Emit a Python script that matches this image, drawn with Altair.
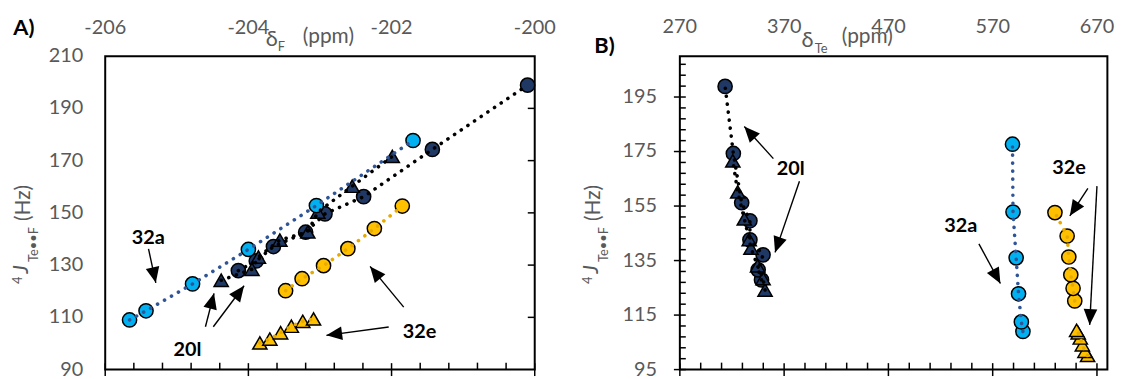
import math
import altair as alt
import pandas as pd

# ---------------- data ----------------
# 20l, circles
J_20l_circ = [127.9, 131.6, 137.1, 142.6, 149.6, 156.2, 174.3, 198.9]
dF_20l_circ = [-204.14, -203.89, -203.65, -203.20, -202.93, -202.39, -201.43, -200.10]
dTe_20l_circ = [348.3, 345.1, 349.8, 337.2, 337.2, 329.3, 321.3, 313.4]
# 20l, triangles
J_20l_tri = [124.2, 128.4, 133.1, 139.6, 142.7, 150.3, 160.2, 171.6]
dF_20l_tri = [-204.38, -203.95, -203.86, -203.56, -203.17, -203.03, -202.55, -201.99]
dTe_20l_tri = [351.7, 349.8, 344.5, 338.2, 336.5, 331.8, 325.5, 320.8]
# 32a, circles
J_32a = [109.0, 112.5, 122.8, 136.0, 152.8, 177.7]
dF_32a = [-205.66, -205.43, -204.78, -204.00, -203.05, -201.70]
dTe_32a = [599.0, 597.5, 594.8, 592.5, 589.5, 589.0]
# 32e, circles
J_32e_circ = [120.2, 124.8, 129.8, 136.3, 144.0, 152.6]
dF_32e_circ = [-203.48, -203.25, -202.95, -202.61, -202.24, -201.85]
dTe_32e_circ = [648.7, 647.1, 644.9, 643.0, 641.4, 629.7]
# 32e, triangles
J_32e_tri = [100.2, 101.7, 104.1, 106.6, 108.5, 109.4]
dF_32e_tri = [-203.84, -203.70, -203.55, -203.40, -203.24, -203.09]
dTe_32e_tri = [661.0, 658.5, 656.0, 654.0, 652.0, 650.5]

# axis ticks / labels
A_x_labels = [-206, -204, -202, -200]
A_x_minor = [-205.6, -205.2, -204.8, -204.4, -203.6, -203.2, -202.8, -202.4,
             -201.6, -201.2, -200.8, -200.4]
A_y_labels = [90, 110, 130, 150, 170, 190, 210]
A_y_right_ticks = [110, 130, 150, 170, 190]
B_x_labels = [270, 370, 470, 570, 670]
B_x_minor = [290, 310, 330, 350, 390, 410, 430, 450, 490, 510, 530, 550,
             590, 610, 630, 650]
B_y_labels = [95, 115, 135, 155, 175, 195]
B_y_minor = [99, 103, 107, 111, 119, 123, 127, 131, 139, 143, 147, 151,
             159, 163, 167, 171, 179, 183, 187, 191, 199, 203, 207]

# annotations (data units)
A_lab_text = ["32a", "20l", "32e"]
A_lab_x = [-205.40, -204.85, -201.61]
A_lab_y = [140.3, 97.4, 104.4]
A_arr_x1 = [-205.395, -204.60, -204.49, -201.83, -202.04]
A_arr_y1 = [136.2, 106.4, 106.4, 113.9, 106.3]
A_arr_x2 = [-205.293, -204.48, -204.06, -202.30, -202.91]
A_arr_y2 = [123.2, 119.2, 122.1, 129.5, 103.1]

B_lab_text = ["20l", "32a", "32e"]
B_lab_x = [376.2, 539.4, 643.3]
B_lab_y = [168.5, 147.8, 169.0]
B_arr_x1 = [359.7, 384.7, 556.8, 661.3, 670.0]
B_arr_y1 = [172.4, 164.1, 141.1, 161.5, 162.3]
B_arr_x2 = [331.8, 361.3, 577.4, 644.0, 663.0]
B_arr_y2 = [184.2, 138.0, 126.6, 151.4, 111.4]

# ---------------- styling ----------------
GRAY = "#595959"
FONT = "Lato"
SERIES = ["20l-c", "20l-t", "32a", "32e-c", "32e-t"]
LINE_COLORS = ["#000000", "#000000", "#2F5597", "#E8AA00", "#E8AA00"]
FILL_DOMAIN = ["20l", "32a", "32e"]
FILL_RANGE = ["#203864", "#00B0F0", "#FFC000"]
ARROW_PATH = "M0,0L0.5,1.15L-0.5,1.15Z"


def build_df(xs):
    rows = []
    groups = [("20l", "circle", "20l-c", J_20l_circ, xs[0]),
              ("20l", "triangle", "20l-t", J_20l_tri, xs[1]),
              ("32a", "circle", "32a", J_32a, xs[2]),
              ("32e", "circle", "32e-c", J_32e_circ, xs[3]),
              ("32e", "triangle", "32e-t", J_32e_tri, xs[4])]
    k = 0
    for comp, marker, ser, Js, Xs in groups:
        for j, x in zip(Js, Xs):
            rows.append(dict(compound=comp, marker=marker, series=ser, x=x, J=j, k=k))
            k += 1
    return pd.DataFrame(rows)


def txt(t, x, y, size, color=GRAY, angle=0, weight="normal", style="normal"):
    return alt.Chart(pd.DataFrame({"t": [t]})).mark_text(
        text=t, font=FONT, fontSize=size, color=color, angle=angle,
        fontWeight=weight, fontStyle=style, align="center", baseline="middle"
    ).encode(x=alt.value(x), y=alt.value(y))


def panel(df, W, H, xdom, ydom, xlabels, ylabels, xminor, xl_y, yl_x,
          labs, arrows, extra_ticks, titles):
    xs = alt.Scale(domain=xdom, nice=False, zero=False)
    ys = alt.Scale(domain=ydom, nice=False, zero=False)

    pts = alt.Chart(df).mark_point(filled=True, stroke="black", strokeWidth=1.5,
                                   opacity=1, size=205).encode(
        x=alt.X("x:Q", scale=xs, axis=None),
        y=alt.Y("J:Q", scale=ys, axis=None),
        fill=alt.Fill("compound:N", scale=alt.Scale(domain=FILL_DOMAIN, range=FILL_RANGE),
                      legend=None),
        shape=alt.Shape("marker:N", scale=alt.Scale(domain=["circle", "triangle"],
                                                    range=["circle", "triangle-up"]),
                        legend=None),
        order=alt.Order("k:Q"),
    )

    # dotted connecting lines, drawn over the markers
    lines = alt.Chart(df).mark_line(strokeDash=[0.1, 8], strokeCap="round",
                                    strokeWidth=3.6).encode(
        x=alt.X("x:Q", axis=None),
        y=alt.Y("J:Q", axis=None),
        color=alt.Color("series:N", scale=alt.Scale(domain=SERIES, range=LINE_COLORS),
                        legend=None),
        detail="series:N",
        order=alt.Order("J:Q"),
    )

    # tick labels (top x, left y)
    xl = alt.Chart(pd.DataFrame({"v": xlabels, "s": [str(v) for v in xlabels]})).mark_text(
        font=FONT, fontSize=20, color=GRAY, align="center", baseline="middle"
    ).encode(x=alt.X("v:Q", axis=None), y=alt.value(xl_y), text="s:N")
    yl = alt.Chart(pd.DataFrame({"v": ylabels, "s": [str(v) for v in ylabels]})).mark_text(
        font=FONT, fontSize=20, color=GRAY, align="right", baseline="middle"
    ).encode(y=alt.Y("v:Q", axis=None), x=alt.value(yl_x), text="s:N")

    # bottom ticks (inside), major ones crossing the frame
    tmin = alt.Chart(pd.DataFrame({"v": xminor})).mark_tick(
        orient="vertical", size=7, thickness=1.5, color="black", opacity=1
    ).encode(x=alt.X("v:Q", axis=None), y=alt.value(H - 3.5))
    tmaj = alt.Chart(pd.DataFrame({"v": xlabels})).mark_tick(
        orient="vertical", size=13, thickness=1.5, color="black", opacity=1
    ).encode(x=alt.X("v:Q", axis=None), y=alt.value(H))

    # annotation labels and arrows
    ldf = pd.DataFrame({"t": labs[0], "x": labs[1], "y": labs[2]})
    labels = alt.Chart(ldf).mark_text(font=FONT, fontWeight="bold", fontSize=20,
                                      color="black").encode(
        x=alt.X("x:Q", axis=None), y=alt.Y("y:Q", axis=None), text="t:N")

    x1, y1, x2, y2 = arrows
    sx = W / (xdom[1] - xdom[0])
    sy = H / (ydom[1] - ydom[0])
    ang = []
    for a, b, c, d in zip(x1, y1, x2, y2):
        dx = (c - a) * sx
        dy = -(d - b) * sy
        ang.append(math.degrees(math.atan2(dx, -dy)) % 360)
    adf = pd.DataFrame({"x1": x1, "y1": y1, "x2": x2, "y2": y2, "ang": ang})
    shafts = alt.Chart(adf).mark_rule(color="black", strokeWidth=1.4).encode(
        x=alt.X("x1:Q", axis=None), y=alt.Y("y1:Q", axis=None), x2="x2:Q", y2="y2:Q")
    heads = alt.Chart(adf).mark_point(shape=ARROW_PATH, size=760, filled=True,
                                      color="black", opacity=1, strokeWidth=0).encode(
        x=alt.X("x2:Q", axis=None), y=alt.Y("y2:Q", axis=None),
        angle=alt.Angle("ang:Q", scale=None))

    layers = [pts, lines, tmin, tmaj] + extra_ticks + [xl, yl, shafts, heads, labels] + titles
    return alt.layer(*layers).properties(width=W, height=H)


# ---------------- panel A ----------------
WA, HA = 433, 316
dfA = build_df([dF_20l_circ, dF_20l_tri, dF_32a, dF_32e_circ, dF_32e_tri])
A_right = alt.Chart(pd.DataFrame({"v": A_y_right_ticks})).mark_tick(
    orient="horizontal", size=7, thickness=1.5, color="black", opacity=1
).encode(y=alt.Y("v:Q", axis=None), x=alt.value(WA - 3.5))
A_titles = [
    txt("A)", -82, -28, 22, color="black", weight="bold"),
    txt("δ", 168, -17, 22),
    txt("F", 177.5, -9, 13),
    txt("(ppm)", 225, -19, 21),
    txt("(Hz)", -82, 148, 21, angle=270),
    txt("Te••F", -71.5, 190, 13, angle=270),
    txt("J", -83.5, 215, 21, angle=270, style="italic"),
    txt("4", -88, 226, 13, angle=270),
]
chartA = panel(dfA, WA, HA, [-206, -200], [90, 210], A_x_labels, A_y_labels, A_x_minor,
               -28, -22,
               (A_lab_text, A_lab_x, A_lab_y), (A_arr_x1, A_arr_y1, A_arr_x2, A_arr_y2),
               [A_right], A_titles)

# ---------------- panel B ----------------
WB, HB = 431, 316
dfB = build_df([dTe_20l_circ, dTe_20l_tri, dTe_32a, dTe_32e_circ, dTe_32e_tri])
B_left_min = alt.Chart(pd.DataFrame({"v": B_y_minor})).mark_tick(
    orient="horizontal", size=6, thickness=1.5, color="black", opacity=1
).encode(y=alt.Y("v:Q", axis=None), x=alt.value(3))
B_left_maj = alt.Chart(pd.DataFrame({"v": B_y_labels})).mark_tick(
    orient="horizontal", size=12, thickness=1.5, color="black", opacity=1
).encode(y=alt.Y("v:Q", axis=None), x=alt.value(0))
B_titles = [
    txt("B)", -76, -10, 22, color="black", weight="bold"),
    txt("δ", 128.7, -16, 22),
    txt("Te", 142.5, -7.3, 13),
    txt("(ppm)", 189, -19, 21),
    txt("(Hz)", -87, 148, 21, angle=270),
    txt("Te••F", -76.5, 190, 13, angle=270),
    txt("J", -88.5, 215, 21, angle=270, style="italic"),
    txt("4", -93, 226, 13, angle=270),
]
chartB = panel(dfB, WB, HB, [270, 680], [95, 210], B_x_labels, B_y_labels, B_x_minor,
               -29, -23,
               (B_lab_text, B_lab_x, B_lab_y), (B_arr_x1, B_arr_y1, B_arr_x2, B_arr_y2),
               [B_left_min, B_left_maj], B_titles)

chart = alt.hconcat(chartA, chartB, spacing=146.3).properties(
    bounds="flush",
    padding={"left": 2, "top": 7, "right": 2, "bottom": 2},
    background="white",
).configure_view(stroke="black", strokeWidth=2).configure_axis(grid=False)

chart.save("out.html", embed_options={"renderer": "svg", "actions": False})
